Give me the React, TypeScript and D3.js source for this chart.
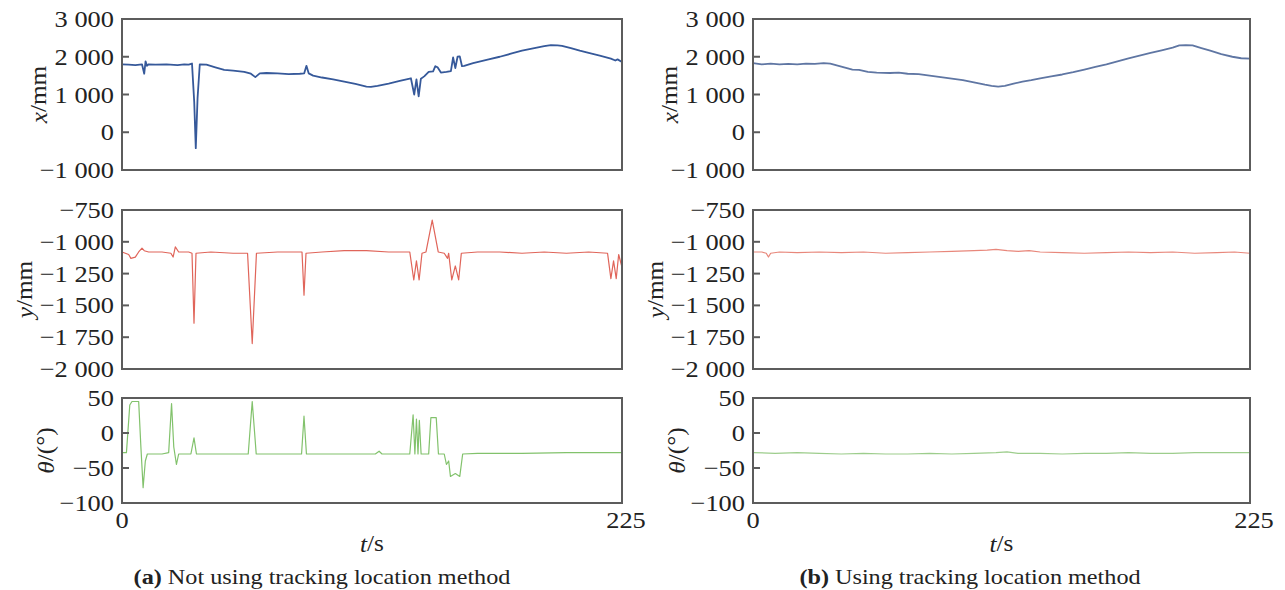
import React from "react";
import * as d3 from "d3";

// time stamps (s) and readings for each trace
const tXA = [0, 3, 6, 9, 10, 10.6, 11.2, 12, 15, 20, 25, 28, 30, 31.5, 32.5, 33.2, 34, 35, 38, 42, 46, 50, 55, 58, 60, 62, 65, 70, 75, 80, 82, 83, 84, 86, 90, 95, 100, 105, 110, 112, 115, 120, 125, 130, 131.5, 132.5, 133.5, 134.5, 136, 138, 140, 141, 142, 143.5, 146, 148, 149, 150, 151, 152, 153, 154, 158, 165, 170, 175, 180, 185, 190, 193, 196, 198, 202, 206, 210, 215, 220, 222, 223, 225];
const xA = [1800, 1790, 1780, 1800, 1550, 1880, 1760, 1800, 1790, 1800, 1780, 1800, 1790, 1820, 800, -420, 900, 1800, 1790, 1720, 1650, 1630, 1600, 1550, 1460, 1560, 1570, 1560, 1540, 1550, 1560, 1760, 1560, 1500, 1450, 1400, 1340, 1280, 1210, 1200, 1230, 1290, 1360, 1430, 1000, 1400, 950, 1420, 1480, 1600, 1610, 1750, 1720, 1580, 1600, 1620, 1980, 1700, 2000, 2010, 1750, 1760, 1830, 1930, 2000, 2080, 2160, 2220, 2280, 2310, 2300, 2290, 2230, 2160, 2100, 2030, 1950, 1900, 1930, 1860];

const tXB = [0, 4, 8, 12, 16, 20, 24, 28, 32, 35, 40, 45, 48, 52, 56, 62, 66, 70, 75, 80, 85, 90, 95, 100, 105, 108, 111, 114, 118, 122, 126, 130, 135, 140, 145, 150, 155, 160, 165, 170, 175, 180, 185, 190, 193, 196, 199, 203, 207, 212, 217, 221, 225];
const xB = [1830, 1800, 1820, 1800, 1810, 1800, 1820, 1810, 1830, 1820, 1740, 1660, 1650, 1600, 1580, 1570, 1580, 1550, 1540, 1500, 1460, 1420, 1380, 1320, 1260, 1230, 1210, 1230, 1290, 1340, 1380, 1430, 1480, 1530, 1590, 1660, 1730, 1800, 1880, 1960, 2030, 2100, 2170, 2240, 2300, 2310, 2300, 2230, 2160, 2070, 2000, 1960, 1950];

const tYA = [0, 3, 4, 6, 7.5, 9, 10, 12, 18, 22, 23, 24, 25.5, 30, 31.5, 32.4, 33.3, 40, 50, 56.5, 58.6, 60.5, 70, 81, 81.9, 82.8, 90, 100, 110, 120, 129.5, 131.3, 132.5, 133.7, 135, 136.8, 139.6, 142.3, 145, 146.5, 147, 148.4, 150, 151.5, 152.7, 160, 170, 180, 190, 200, 210, 218.5, 220, 221.2, 222.4, 223.5, 225];
const yA = [-1080, -1100, -1130, -1120, -1080, -1050, -1070, -1080, -1080, -1090, -1120, -1040, -1080, -1080, -1090, -1640, -1090, -1080, -1090, -1090, -1800, -1090, -1080, -1080, -1420, -1090, -1080, -1070, -1070, -1080, -1080, -1300, -1150, -1300, -1090, -1080, -830, -1080, -1090, -1130, -1090, -1300, -1190, -1300, -1090, -1080, -1080, -1090, -1080, -1090, -1080, -1090, -1290, -1150, -1290, -1100, -1200];

const tYB = [0, 4, 6, 7, 8, 12, 20, 30, 40, 50, 60, 70, 80, 90, 100, 106, 110, 115, 120, 125, 130, 140, 150, 160, 170, 180, 190, 200, 210, 218, 225];
const yB = [-1080, -1080, -1090, -1120, -1090, -1080, -1085, -1080, -1085, -1080, -1090, -1085, -1080, -1075, -1070, -1065, -1060, -1070, -1075, -1070, -1080, -1085, -1090, -1085, -1080, -1085, -1080, -1090, -1085, -1080, -1090];

const tThA = [0, 2, 3.5, 4.5, 7.5, 8.5, 9.5, 10.5, 11.4, 18, 21, 22.3, 23.3, 24.5, 25.5, 31, 32.4, 33.5, 40, 56.8, 58.6, 60.4, 70, 80.8, 81.9, 83, 100, 114, 115.7, 117, 129.5, 131, 131.8, 132.5, 133.2, 133.8, 134.6, 138, 139, 141.4, 142.4, 145, 146, 147, 147.8, 150, 152, 153.3, 160, 180, 200, 225];
const thA = [-28, -28, 40, 45, 45, -20, -78, -40, -30, -30, -28, 42, -20, -45, -30, -30, -7, -30, -30, -30, 45, -30, -30, -30, 24, -30, -30, -30, -26, -30, -30, 26, -30, 20, -30, 18, -30, -30, 22, 22, -30, -30, -45, -40, -62, -58, -62, -30, -29, -29, -28, -28];

const tThB = [0, 10, 20, 30, 40, 50, 60, 70, 80, 90, 100, 110, 115, 120, 130, 140, 150, 160, 170, 180, 190, 200, 210, 225];
const thB = [-28, -29, -28, -29, -30, -29, -30, -30, -29, -30, -29, -28, -27, -29, -29, -30, -29, -29, -28, -29, -29, -28, -28, -28];

const xTicks = [3000, 2000, 1000, 0, -1000];
const yTicks = [-750, -1000, -1250, -1500, -1750, -2000];
const thTicks = [50, 0, -50, -100];
const tTicks = [0, 225];

const captions = [
  { tag: "(a)", text: " Not using tracking location method" },
  { tag: "(b)", text: " Using tracking location method" },
];

const cols = [
  { left: 122, right: 622, capX: 322 },
  { left: 753, right: 1250, capX: 970 },
];
const rows = [
  { top: 19, bottom: 170, domain: [-1000, 3000], ticks: xTicks, label: "x", unit: "/mm", titleOff: 84 },
  { top: 210, bottom: 369, domain: [-2000, -750], ticks: yTicks, label: "y", unit: "/mm", titleOff: 98 },
  { top: 398, bottom: 503, domain: [-100, 50], ticks: thTicks, label: "θ", unit: "/(°)", titleOff: 77 },
];
const colors = [
  ["#36599a", "#5f76a3"],
  ["#e0655a", "#e8877b"],
  ["#82c26c", "#9dcd8c"],
];
const widths = [1.8, 1.2, 1.2];

const series = [
  [[tXA, xA], [tXB, xB]],
  [[tYA, yA], [tYB, yB]],
  [[tThA, thA], [tThB, thB]],
];

const fmt = (v: number) => {
  const s = Math.abs(v).toString();
  const g = s.length > 3 ? s.slice(0, s.length - 3) + " " + s.slice(-3) : s;
  return (v < 0 ? "\u2212" : "") + g;
};

const FONT = "Liberation Serif";
const SX = 1.1;

function Txt({ x, y, anchor = "middle", size = 24, rotate = 0, children }: any) {
  return (
    <text
      transform={`translate(${x},${y}) rotate(${rotate}) scale(${SX},1)`}
      textAnchor={anchor}
      dominantBaseline="central"
      fontSize={size}
      fontFamily={FONT}
      fill="#222"
    >
      {children}
    </text>
  );
}

export default function App() {
  const W = 1285;
  const H = 590;
  return (
    <svg width={W} height={H} style={{ position: "absolute", left: 0, top: 0, background: "#fff" }}>
      {cols.map((c, ci) => {
        const xs = d3.scaleLinear().domain([0, 225]).range([c.left, c.right]);
        return (
          <g key={ci}>
            {rows.map((r, ri) => {
              const ys = d3.scaleLinear().domain(r.domain).range([r.bottom, r.top]);
              const [ts, vs] = series[ri][ci];
              const line = d3
                .line<number>()
                .x((_, i) => xs(ts[i]))
                .y((v) => ys(v));
              const mid = (r.top + r.bottom) / 2;
              return (
                <g key={ri}>
                  <path d={line(vs) || ""} fill="none" stroke={colors[ri][ci]} strokeWidth={widths[ri]} strokeLinejoin="round" />
                  <rect x={c.left} y={r.top} width={c.right - c.left} height={r.bottom - r.top} fill="none" stroke="#5c5c5c" strokeWidth={2} />
                  {r.ticks.map((tv) => (
                    <g key={tv}>
                      <line x1={c.left} x2={c.left + 7} y1={ys(tv)} y2={ys(tv)} stroke="#5c5c5c" strokeWidth={2} />
                      <Txt x={c.left - 8} y={ys(tv)} anchor="end">
                        {fmt(tv)}
                      </Txt>
                    </g>
                  ))}
                  <Txt x={c.left - r.titleOff} y={mid} rotate={-90} size={23}>
                    <tspan fontStyle="italic">{r.label}</tspan>
                    {r.unit}
                  </Txt>
                </g>
              );
            })}
            {tTicks.map((tv) => (
              <Txt key={tv} x={xs(tv) + (tv === 225 ? 4 : 0)} y={520}>
                {tv}
              </Txt>
            ))}
            <Txt x={(c.left + c.right) / 2} y={543} size={23}>
              <tspan fontStyle="italic">t</tspan>/s
            </Txt>
            <Txt x={c.capX} y={576} size={22}>
              <tspan fontWeight="bold">{captions[ci].tag}</tspan>
              {captions[ci].text}
            </Txt>
          </g>
        );
      })}
    </svg>
  );
}
